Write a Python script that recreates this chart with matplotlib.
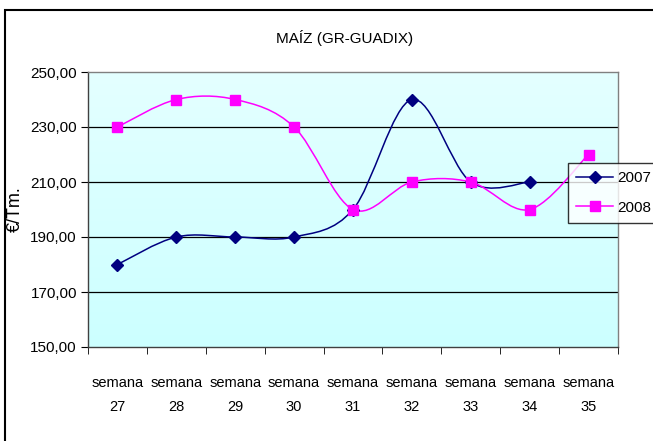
import numpy as np
import matplotlib
matplotlib.use("Agg")
import matplotlib.pyplot as plt
from matplotlib.path import Path
import matplotlib.patches as patches
from matplotlib.lines import Line2D

# Data
weeks = ["semana\n27", "semana\n28", "semana\n29", "semana\n30", "semana\n31",
         "semana\n32", "semana\n33", "semana\n34", "semana\n35"]
price_2007 = [180, 190, 190, 190, 200, 240, 210, 210]
price_2008 = [230, 240, 240, 230, 200, 210, 210, 200, 220]
y_ticks = [150, 170, 190, 210, 230, 250]

plt.rcParams["font.family"] = ["Liberation Sans", "DejaVu Sans"]


def smooth_path(xs, ys):
    """Excel-style smoothed line as a chain of cubic Bezier segments."""
    pts = np.column_stack([xs, ys]).astype(float)
    n = len(pts)
    verts = [pts[0]]
    codes = [Path.MOVETO]
    for i in range(n - 1):
        p0 = pts[i - 1] if i > 0 else pts[i]
        p1 = pts[i]
        p2 = pts[i + 1]
        p3 = pts[i + 2] if i + 2 < n else pts[i + 1]
        c1 = p1 + (p2 - p0) / 6.0
        c2 = p2 - (p3 - p1) / 6.0
        verts += [c1, c2, p2]
        codes += [Path.CURVE4] * 3
    return Path(verts, codes)


fig = plt.figure(figsize=(6.53, 4.41), dpi=100)
W, H = 653, 441
ax = fig.add_axes([88 / W, 1 - 347 / H, (618 - 88) / W, (347 - 72) / H])

# gradient background of the plot area
grad = np.linspace(0, 1, 256).reshape(-1, 1)
cmap = matplotlib.colors.LinearSegmentedColormap.from_list("bg", ["#E4FFFF", "#CCFFFF"])
ax.imshow(grad, cmap=cmap, aspect="auto", extent=[0, 1, 0, 1],
          transform=ax.transAxes, zorder=0)

x = np.arange(len(weeks))
ax.set_xlim(-0.5, len(weeks) - 0.5)
ax.set_ylim(150, 250)

for yv in y_ticks[1:-1]:
    ax.axhline(yv, color="black", lw=0.9, zorder=1)

series = [
    (price_2007, "#000080", "D", 6.5, "2007"),
    (price_2008, "#FF00FF", "s", 6.5, "2008"),
]
handles = []
for vals, col, mk, ms, lab in series:
    xs = x[:len(vals)]
    ax.add_patch(patches.PathPatch(smooth_path(xs, vals), fill=False,
                                   edgecolor=col, lw=1.1, zorder=3))
    ax.plot(xs, vals, ls="none", marker=mk, ms=ms, color=col, zorder=4)
    handles.append(Line2D([], [], color=col, lw=1.1, marker=mk, ms=ms, label=lab))

ax.set_yticks(y_ticks)
ax.set_yticklabels([f"{v:.2f}".replace(".", ",") for v in y_ticks], fontsize=11)
ax.set_xticks(x)
ax.set_xticklabels(weeks, fontsize=10.5, linespacing=1.85)
ax.set_xticks(np.arange(-0.5, len(weeks)), minor=True)
ax.tick_params(axis="x", which="major", length=0, pad=21)
ax.tick_params(axis="x", which="minor", length=5, direction="out")
ax.tick_params(axis="y", length=5, direction="out", pad=3)
for side in ["left", "bottom", "top", "right"]:
    ax.spines[side].set_color("#404040" if side in ("left", "bottom") else "#808080")
    ax.spines[side].set_linewidth(1.0)

ax.set_ylabel("€/Tm.", fontsize=13)
ax.yaxis.set_label_coords(-64 / (618 - 88), 0.5)
fig.text(345 / W, 1 - 38 / H, "MAÍZ (GR-GUADIX)", ha="center", va="center", fontsize=11)

leg = fig.legend(handles=handles, loc="upper left",
                 bbox_to_anchor=(568 / W, 1 - 163 / H), fontsize=11,
                 frameon=True, fancybox=False, edgecolor="black",
                 handlelength=2.4, borderpad=0.55, labelspacing=1.0,
                 handletextpad=0.3, borderaxespad=0.0)
leg.get_frame().set_linewidth(1.0)

# outer chart frame (cut off at the right and bottom like the source)
fig.add_artist(patches.Rectangle((5 / W, -0.05), 1.1, 1 - 10 / H + 0.05,
                                 transform=fig.transFigure, fill=False,
                                 edgecolor="black", lw=1.5))

fig.savefig("out.png", dpi=100)
